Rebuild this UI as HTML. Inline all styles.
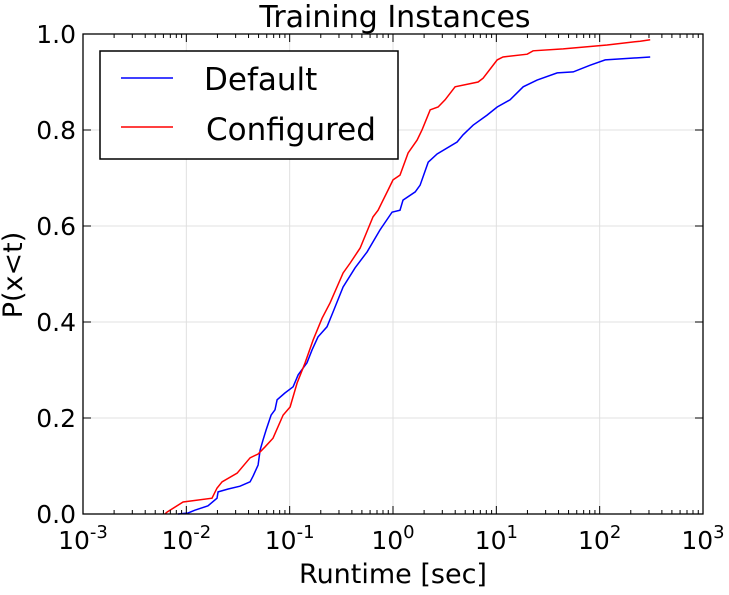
<!DOCTYPE html>
<html><head><meta charset="utf-8"><style>
body{margin:0;background:#fff;}
svg text{font-family:"DejaVu Sans","Liberation Sans",sans-serif;fill:#000;}
</style></head><body>
<svg id="chart" width="729" height="590" xmlns="http://www.w3.org/2000/svg">
<g id="grid"></g>
<g id="series"></g>
<g id="axes"></g>
<text x="395" y="27" font-size="30" text-anchor="middle">Training Instances</text>
<text x="393" y="583" font-size="27" text-anchor="middle">Runtime [sec]</text>
<text transform="translate(22,275) rotate(-90)" font-size="27" text-anchor="middle">P(x&lt;t)</text>
<g>
<rect x="100" y="51" width="298" height="108" fill="#fff" stroke="#000" stroke-width="1.5"/>
<g><line x1="121" y1="78" x2="173" y2="78" stroke="#0000ff" stroke-width="1.5"/><text x="204" y="90" font-size="31">Default</text></g>
<g><line x1="121" y1="127" x2="173" y2="127" stroke="#ff0000" stroke-width="1.5"/><text x="206" y="140" font-size="31">Configured</text></g>
</g>
</svg>
<script>
const xTickExps=[-3,-2,-1,0,1,2,3];
const yTicks=[0,0.2,0.4,0.6,0.8,1.0];
const yTickLabels=["0.0","0.2","0.4","0.6","0.8","1.0"];
const defaultX=[0.0083,0.0104,0.0121,0.0162,0.0198,0.0203,0.0254,0.0331,0.0414,0.0443,0.0495,0.0517,0.0552,0.0591,0.0661,0.0722,0.0755,0.090,0.108,0.121,0.147,0.165,0.188,0.230,0.263,0.329,0.430,0.561,0.750,0.980,1.17,1.25,1.64,1.83,2.19,2.67,4.17,4.77,5.96,8.14,10.2,13.6,18.2,24.8,38.8,55.4,80.9,113,308];
const defaultY=[0,0.002,0.008,0.017,0.033,0.046,0.052,0.058,0.067,0.079,0.102,0.133,0.154,0.175,0.206,0.217,0.238,0.252,0.265,0.290,0.315,0.342,0.369,0.390,0.421,0.473,0.513,0.546,0.592,0.629,0.633,0.654,0.671,0.685,0.733,0.750,0.775,0.790,0.810,0.831,0.848,0.863,0.890,0.904,0.919,0.921,0.935,0.946,0.952];
const configuredX=[0.0062,0.0065,0.0093,0.0177,0.0198,0.0222,0.031,0.0414,0.0495,0.0578,0.069,0.0863,0.101,0.118,0.141,0.169,0.206,0.246,0.329,0.385,0.480,0.641,0.717,0.897,1.00,1.17,1.40,1.71,1.91,2.29,2.73,3.19,3.99,6.66,7.45,10.2,11.6,19.9,22.7,44.4,118,247,308];
const configuredY=[0,0.004,0.025,0.033,0.054,0.067,0.085,0.117,0.125,0.140,0.158,0.206,0.223,0.273,0.315,0.363,0.408,0.440,0.502,0.523,0.554,0.619,0.633,0.675,0.696,0.706,0.752,0.779,0.800,0.842,0.848,0.863,0.890,0.900,0.908,0.946,0.952,0.958,0.965,0.969,0.977,0.985,0.988];

const L=83,R=703,T=34,B=514;
function xs(v){return L+(Math.log10(v)+3)/6*(R-L);}
function ys(v){return B-v*(B-T);}
const NS="http://www.w3.org/2000/svg";
function mk(tag,attrs,parent){const e=document.createElementNS(NS,tag);for(const k in attrs)e.setAttribute(k,attrs[k]);parent.appendChild(e);return e;}
const grid=document.getElementById('grid'),axes=document.getElementById('axes'),series=document.getElementById('series');

xTickExps.forEach(e=>{
  const x=xs(Math.pow(10,e));
  const g=mk('line',{x1:x,x2:x,y1:T,y2:B,stroke:'#e0e0e0','stroke-width':1},grid);
  
  
  [[B,B-8],[T,T+8]].forEach(p=>{const t=mk('line',{x1:x,x2:x,y1:p[0],y2:p[1],stroke:'#000','stroke-width':1},axes);
    
    });
  if(e<3){for(let m=2;m<10;m++){const xm=xs(m*Math.pow(10,e));
    [[B,B-4],[T,T+4]].forEach(p=>{const t=mk('line',{x1:xm,x2:xm,y1:p[0],y2:p[1],stroke:'#000','stroke-width':1},axes);
      
      });}}
  const tx=mk('text',{x:x,y:549,'font-size':25,'text-anchor':'middle'},axes);
  
  
  tx.innerHTML='10<tspan font-size="18" dy="-11">'+e+'</tspan>';
});
yTicks.forEach((v,i)=>{
  const y=ys(v);
  const g=mk('line',{x1:L,x2:R,y1:y,y2:y,stroke:'#e0e0e0','stroke-width':1},grid);
  
  
  [[L,L+8],[R,R-8]].forEach(p=>{const t=mk('line',{x1:p[0],x2:p[1],y1:y,y2:y,stroke:'#000','stroke-width':1},axes);
    
    });
  const tx=mk('text',{x:L-7,y:y+9,'font-size':25,'text-anchor':'end'},axes);
  
  
  tx.textContent=yTickLabels[i];
});
const frame=mk('rect',{x:L,y:T,width:R-L,height:B-T,fill:'none',stroke:'#000','stroke-width':1.3},axes);



function line(xv,yv,color,name){
  const pts=xv.map((v,i)=>xs(v).toFixed(1)+','+ys(yv[i]).toFixed(1)).join(' ');
  const p=mk('polyline',{points:pts,fill:'none',stroke:color,'stroke-width':1.5},series);
  
  
}
line(defaultX,defaultY,'#0000ff','default-line');
line(configuredX,configuredY,'#ff0000','configured-line');
</script>
</body></html>
